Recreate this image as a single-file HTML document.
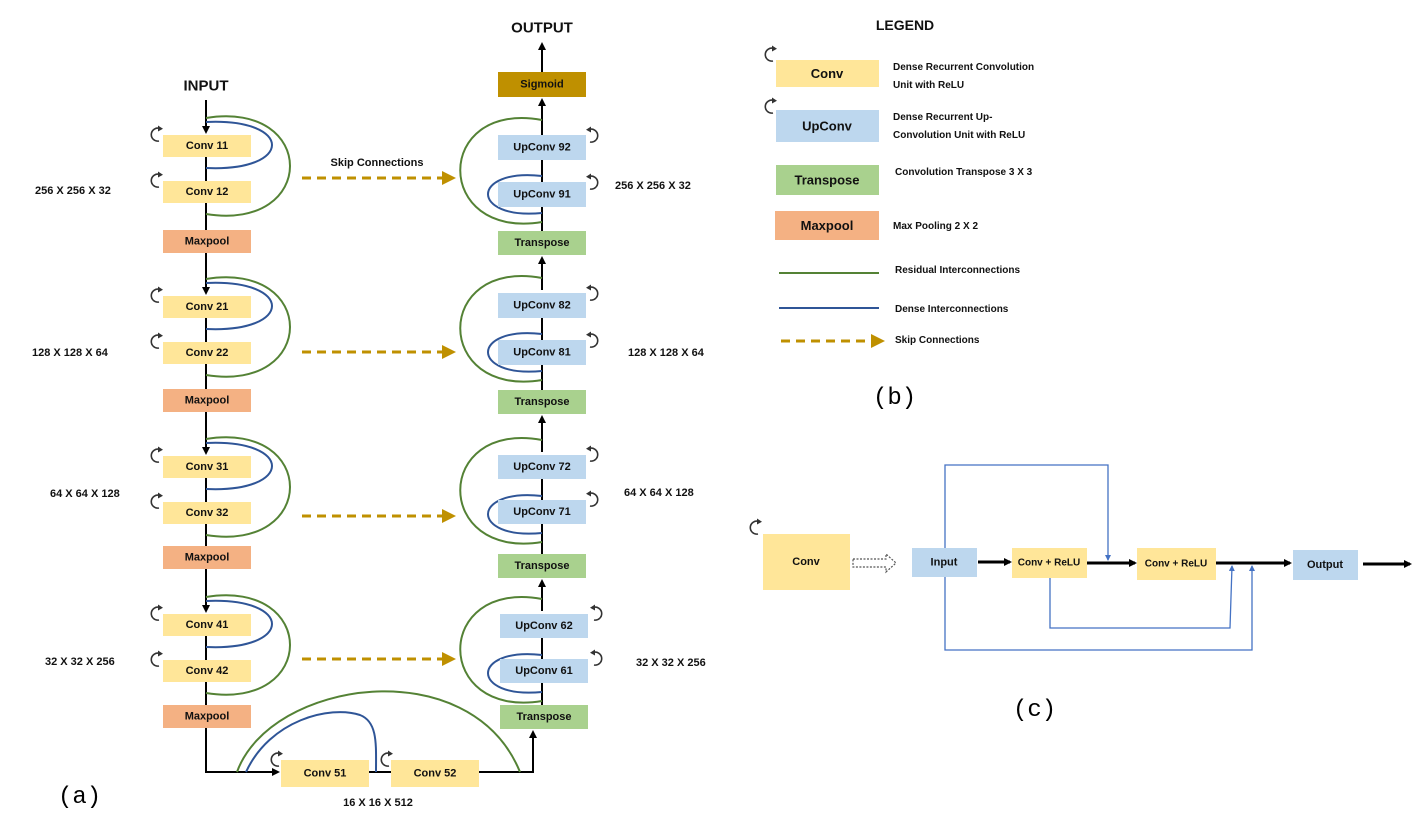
<!DOCTYPE html>
<html><head><meta charset="utf-8"><style>
html,body{margin:0;padding:0;background:#fff;}
svg{display:block;font-family:"Liberation Sans",sans-serif;}
.t{font-size:11px;font-weight:bold;text-anchor:middle;dominant-baseline:central;fill:#111;}
.l{font-size:10px;font-weight:bold;fill:#111;}
.d{font-size:11px;font-weight:bold;fill:#111;}
.cv{fill:#ffe699;} .up{fill:#bdd7ee;} .tr{fill:#a9d18e;} .mp{fill:#f4b183;}
.g{fill:none;stroke:#548235;stroke-width:2;}
.b{fill:none;stroke:#2f5597;stroke-width:2;}
.k{stroke:#000;stroke-width:2;fill:none;}
.sk{stroke:#bf9000;stroke-width:3;stroke-dasharray:9 6;fill:none;}
.bl{stroke:#4472c4;stroke-width:1.3;fill:none;}
</style></head><body>
<svg width="1415" height="828" viewBox="0 0 1415 828">
<defs>
<marker id="ah" markerWidth="8" markerHeight="8" refX="6" refY="4" orient="auto" markerUnits="userSpaceOnUse"><path d="M0,0 L8,4 L0,8 z" fill="#000"/></marker>
<marker id="ahg" markerWidth="14" markerHeight="14" refX="10" refY="7" orient="auto" markerUnits="userSpaceOnUse"><path d="M0,0 L14,7 L0,14 z" fill="#bf9000"/></marker>
<marker id="ahb" markerWidth="6" markerHeight="6" refX="5" refY="3" orient="auto" markerUnits="userSpaceOnUse"><path d="M0,0 L6,3 L0,6 z" fill="#4472c4"/></marker>
<g id="rc"><path d="M9 14 A6.5 6.5 0 1 1 10 1.5" stroke="#333" stroke-width="1.6" fill="none"/><path d="M8 -1.5 L13 1.8 L8 4.5 z" fill="#333"/></g>
</defs>

<!-- ===== (a) LEFT column ===== -->
<text x="206" y="86" class="t" style="font-size:15px">INPUT</text>
<line x1="206" y1="100" x2="206" y2="132" class="k" marker-end="url(#ah)"/>
<line x1="206" y1="157" x2="206" y2="181" class="k"/>
<line x1="206" y1="203" x2="206" y2="230" class="k"/>
<line x1="206" y1="253" x2="206" y2="293" class="k" marker-end="url(#ah)"/>
<line x1="206" y1="318" x2="206" y2="342" class="k"/>
<line x1="206" y1="364" x2="206" y2="389" class="k"/>
<line x1="206" y1="412" x2="206" y2="453" class="k" marker-end="url(#ah)"/>
<line x1="206" y1="478" x2="206" y2="502" class="k"/>
<line x1="206" y1="524" x2="206" y2="546" class="k"/>
<line x1="206" y1="569" x2="206" y2="611" class="k" marker-end="url(#ah)"/>
<line x1="206" y1="636" x2="206" y2="660" class="k"/>
<line x1="206" y1="682" x2="206" y2="705" class="k"/>
<polyline points="206,728 206,772 278,772" class="k" marker-end="url(#ah)"/>
<line x1="369" y1="772" x2="391" y2="772" class="k"/>
<polyline points="479,772 533,772 533,732" class="k" marker-end="url(#ah)"/>

<!-- loops left -->
<path class="g" d="M206 118 C318 100,318 232,206 214"/>
<path class="b" d="M206 122 C294 118,294 172,206 168"/>
<path class="g" d="M206 279 C318 261,318 393,206 375"/>
<path class="b" d="M206 283 C294 279,294 333,206 329"/>
<path class="g" d="M206 439 C318 421,318 553,206 535"/>
<path class="b" d="M206 443 C294 439,294 493,206 489"/>
<path class="g" d="M206 597 C318 579,318 711,206 693"/>
<path class="b" d="M206 601 C294 597,294 651,206 647"/>

<!-- boxes left -->
<rect x="163" y="135" width="88" height="22" class="cv"/><text x="207" y="146" class="t">Conv 11</text>
<rect x="163" y="181" width="88" height="22" class="cv"/><text x="207" y="192" class="t">Conv 12</text>
<rect x="163" y="230" width="88" height="23" class="mp"/><text x="207" y="241.5" class="t">Maxpool</text>
<rect x="163" y="296" width="88" height="22" class="cv"/><text x="207" y="307" class="t">Conv 21</text>
<rect x="163" y="342" width="88" height="22" class="cv"/><text x="207" y="353" class="t">Conv 22</text>
<rect x="163" y="389" width="88" height="23" class="mp"/><text x="207" y="400.5" class="t">Maxpool</text>
<rect x="163" y="456" width="88" height="22" class="cv"/><text x="207" y="467" class="t">Conv 31</text>
<rect x="163" y="502" width="88" height="22" class="cv"/><text x="207" y="513" class="t">Conv 32</text>
<rect x="163" y="546" width="88" height="23" class="mp"/><text x="207" y="557.5" class="t">Maxpool</text>
<rect x="163" y="614" width="88" height="22" class="cv"/><text x="207" y="625" class="t">Conv 41</text>
<rect x="163" y="660" width="88" height="22" class="cv"/><text x="207" y="671" class="t">Conv 42</text>
<rect x="163" y="705" width="88" height="23" class="mp"/><text x="207" y="716.5" class="t">Maxpool</text>

<use href="#rc" x="150" y="127"/><use href="#rc" x="150" y="173"/>
<use href="#rc" x="150" y="288"/><use href="#rc" x="150" y="334"/>
<use href="#rc" x="150" y="448"/><use href="#rc" x="150" y="494"/>
<use href="#rc" x="150" y="606"/><use href="#rc" x="150" y="652"/>

<!-- bottom -->
<path class="g" d="M237 772 C270 680,470 650,520 772"/>
<path class="b" d="M246 772 C270 720,330 705,360 715 C378 722,376 745,376 772"/>
<rect x="281" y="760" width="88" height="27" class="cv"/><text x="325" y="773.5" class="t">Conv 51</text>
<rect x="391" y="760" width="88" height="27" class="cv"/><text x="435" y="773.5" class="t">Conv 52</text>
<use href="#rc" x="270" y="752"/><use href="#rc" x="380" y="752"/>
<text x="378" y="803" class="t">16 X 16 X 512</text>

<text x="35" y="194" class="d">256 X 256 X 32</text>
<text x="32" y="356" class="d">128 X 128 X 64</text>
<text x="50" y="497" class="d">64 X 64 X 128</text>
<text x="45" y="665" class="d">32 X 32 X 256</text>

<!-- skip -->
<text x="377" y="163" class="t">Skip Connections</text>
<line x1="302" y1="178" x2="452" y2="178" class="sk" marker-end="url(#ahg)"/>
<line x1="302" y1="352" x2="452" y2="352" class="sk" marker-end="url(#ahg)"/>
<line x1="302" y1="516" x2="452" y2="516" class="sk" marker-end="url(#ahg)"/>
<line x1="302" y1="659" x2="452" y2="659" class="sk" marker-end="url(#ahg)"/>

<!-- ===== RIGHT column ===== -->
<text x="542" y="28" class="t" style="font-size:15px">OUTPUT</text>
<line x1="542" y1="72" x2="542" y2="44" class="k" marker-end="url(#ah)"/>
<line x1="542" y1="135" x2="542" y2="100" class="k" marker-end="url(#ah)"/>
<line x1="542" y1="160" x2="542" y2="182" class="k"/>
<line x1="542" y1="207" x2="542" y2="231" class="k"/>
<line x1="542" y1="290" x2="542" y2="258" class="k" marker-end="url(#ah)"/>
<line x1="542" y1="318" x2="542" y2="340" class="k"/>
<line x1="542" y1="365" x2="542" y2="390" class="k"/>
<line x1="542" y1="452" x2="542" y2="417" class="k" marker-end="url(#ah)"/>
<line x1="542" y1="479" x2="542" y2="500" class="k"/>
<line x1="542" y1="524" x2="542" y2="554" class="k"/>
<line x1="542" y1="611" x2="542" y2="581" class="k" marker-end="url(#ah)"/>
<line x1="542" y1="638" x2="542" y2="659" class="k"/>
<line x1="542" y1="683" x2="542" y2="705" class="k"/>

<path class="g" d="M542 120 C433 100,433 240,542 222"/>
<path class="b" d="M542 176 C470 168,470 220,542 213"/>
<path class="g" d="M542 278 C433 258,433 398,542 380"/>
<path class="b" d="M542 334 C470 326,470 378,542 371"/>
<path class="g" d="M542 440 C433 420,433 560,542 542"/>
<path class="b" d="M542 496 C470 488,470 540,542 533"/>
<path class="g" d="M542 599 C433 579,433 719,542 701"/>
<path class="b" d="M542 655 C470 647,470 699,542 692"/>

<rect x="498" y="72" width="88" height="25" fill="#bf9000"/><text x="542" y="84.5" class="t">Sigmoid</text>
<rect x="498" y="135" width="88" height="25" class="up"/><text x="542" y="147.5" class="t">UpConv 92</text>
<rect x="498" y="182" width="88" height="25" class="up"/><text x="542" y="194.5" class="t">UpConv 91</text>
<rect x="498" y="231" width="88" height="24" class="tr"/><text x="542" y="243" class="t">Transpose</text>
<rect x="498" y="293" width="88" height="25" class="up"/><text x="542" y="305.5" class="t">UpConv 82</text>
<rect x="498" y="340" width="88" height="25" class="up"/><text x="542" y="352.5" class="t">UpConv 81</text>
<rect x="498" y="390" width="88" height="24" class="tr"/><text x="542" y="402" class="t">Transpose</text>
<rect x="498" y="455" width="88" height="24" class="up"/><text x="542" y="467" class="t">UpConv 72</text>
<rect x="498" y="500" width="88" height="24" class="up"/><text x="542" y="512" class="t">UpConv 71</text>
<rect x="498" y="554" width="88" height="24" class="tr"/><text x="542" y="566" class="t">Transpose</text>
<rect x="500" y="614" width="88" height="24" class="up"/><text x="544" y="626" class="t">UpConv 62</text>
<rect x="500" y="659" width="88" height="24" class="up"/><text x="544" y="671" class="t">UpConv 61</text>
<rect x="500" y="705" width="88" height="24" class="tr"/><text x="544" y="717" class="t">Transpose</text>

<g transform="translate(1187,0) scale(-1,1)">
<use href="#rc" x="588" y="128"/><use href="#rc" x="588" y="175"/>
<use href="#rc" x="588" y="286"/><use href="#rc" x="588" y="333"/>
<use href="#rc" x="588" y="447"/><use href="#rc" x="588" y="492"/>
</g>
<g transform="translate(1191,0) scale(-1,1)">
<use href="#rc" x="588" y="606"/><use href="#rc" x="588" y="651"/>
</g>

<text x="615" y="189" class="d">256 X 256 X 32</text>
<text x="628" y="356" class="d">128 X 128 X 64</text>
<text x="624" y="496" class="d">64 X 64 X 128</text>
<text x="636" y="666" class="d">32 X 32 X 256</text>

<text x="58" y="803" style="font-family:'Liberation Mono',monospace;font-size:24px">(a)</text>

<!-- ===== (b) LEGEND ===== -->
<text x="905" y="25" class="t" style="font-size:14px">LEGEND</text>
<rect x="776" y="60" width="103" height="27" class="cv"/><text x="827" y="73.5" class="t" style="font-size:13px">Conv</text>
<use href="#rc" x="764" y="47"/>
<text x="893" y="70" class="l">Dense Recurrent Convolution</text>
<text x="893" y="88" class="l">Unit with ReLU</text>
<rect x="776" y="110" width="103" height="32" class="up"/><text x="827" y="126" class="t" style="font-size:13px">UpConv</text>
<use href="#rc" x="764" y="99"/>
<text x="893" y="120" class="l">Dense Recurrent Up-</text>
<text x="893" y="138" class="l">Convolution Unit with ReLU</text>
<rect x="776" y="165" width="103" height="30" class="tr"/><text x="827" y="180" class="t" style="font-size:13px">Transpose</text>
<text x="895" y="175" class="l">Convolution Transpose 3 X 3</text>
<rect x="775" y="211" width="104" height="29" class="mp"/><text x="827" y="225.5" class="t" style="font-size:13px">Maxpool</text>
<text x="893" y="229" class="l">Max Pooling 2 X 2</text>
<line x1="779" y1="273" x2="879" y2="273" stroke="#548235" stroke-width="2"/>
<text x="895" y="273" class="l">Residual Interconnections</text>
<line x1="779" y1="308" x2="879" y2="308" stroke="#2f5597" stroke-width="2"/>
<text x="895" y="312" class="l">Dense Interconnections</text>
<line x1="781" y1="341" x2="872" y2="341" class="sk"/>
<path d="M871 334 L885 341 L871 348 z" fill="#bf9000"/>
<text x="895" y="343" class="l">Skip Connections</text>
<text x="873" y="404" style="font-family:'Liberation Mono',monospace;font-size:24px">(b)</text>

<!-- ===== (c) ===== -->
<rect x="763" y="534" width="87" height="56" class="cv"/><text x="806" y="562" class="t">Conv</text>
<use href="#rc" x="749" y="520"/>
<path d="M853 559 L886 559 L886 554 L896 563 L886 572 L886 567 L853 567 z" fill="none" stroke="#555" stroke-width="1.2" stroke-dasharray="2 1.5"/>
<polyline points="945,548 945,465 1108,465 1108,560" class="bl" marker-end="url(#ahb)"/>
<polyline points="1050,578 1050,628 1230,628 1232,566" class="bl" marker-end="url(#ahb)"/>
<polyline points="945,577 945,650 1252,650 1252,566" class="bl" marker-end="url(#ahb)"/>
<rect x="912" y="548" width="65" height="29" class="up"/><text x="944" y="562.5" class="t">Input</text>
<line x1="978" y1="562" x2="1010" y2="562" stroke="#000" stroke-width="3" marker-end="url(#ah)"/>
<rect x="1012" y="548" width="75" height="30" class="cv"/><text x="1049" y="563" class="t" style="font-size:10px">Conv + ReLU</text>
<line x1="1087" y1="563" x2="1135" y2="563" stroke="#000" stroke-width="3" marker-end="url(#ah)"/>
<rect x="1137" y="548" width="79" height="32" class="cv"/><text x="1176" y="564" class="t" style="font-size:10px">Conv + ReLU</text>
<line x1="1216" y1="563" x2="1290" y2="563" stroke="#000" stroke-width="3" marker-end="url(#ah)"/>
<rect x="1293" y="550" width="65" height="30" class="up"/><text x="1325" y="565" class="t">Output</text>
<line x1="1363" y1="564" x2="1410" y2="564" stroke="#000" stroke-width="3" marker-end="url(#ah)"/>
<text x="1013" y="716" style="font-family:'Liberation Mono',monospace;font-size:24px">(c)</text>
</svg>
</body></html>
